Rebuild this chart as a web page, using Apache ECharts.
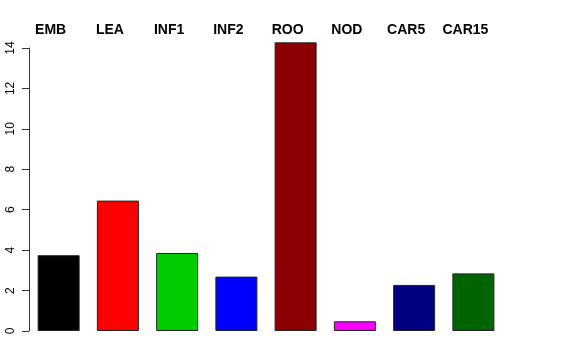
<!DOCTYPE html>
<html>
<head>
<meta charset="utf-8">
<script src="https://cdn.jsdelivr.net/npm/echarts@6/dist/echarts.min.js"></script>
<style>html,body{margin:0;padding:0;background:#fff}#c{width:576px;height:360px}</style>
</head>
<body>
<div id="c"></div>
<script>
var categories = ["EMB", "LEA", "INF1", "INF2", "ROO", "NOD", "CAR5", "CAR15"];
var values = [3.75, 6.45, 3.86, 2.69, 14.28, 0.48, 2.28, 2.85];
var colors = ["#000000", "#FF0000", "#00CD00", "#0000FF", "#8B0000", "#FF00FF", "#000080", "#006400"];
var yTicks = [0, 2, 4, 6, 8, 10, 12, 14];

var chart = echarts.init(document.getElementById('c'), null, {renderer: 'canvas'});
chart.setOption({
  animation: false,
  backgroundColor: '#ffffff',
  grid: {left: 29, width: 474, top: 48, bottom: 29, containLabel: false},
  xAxis: {
    type: 'category',
    data: categories,
    position: 'top',
    axisLine: {show: false},
    axisTick: {show: false},
    axisLabel: {
      interval: 0,
      hideOverlap: false,
      margin: 11,
      fontFamily: 'Liberation Sans, Arial, sans-serif',
      fontWeight: 'bold',
      fontSize: 14,
      color: '#000',
      padding: [0, 16, 0, 0]
    }
  },
  yAxis: {
    type: 'value',
    min: yTicks[0],
    max: yTicks[yTicks.length - 1],
    interval: 2,
    splitLine: {show: false},
    axisLine: {show: true, lineStyle: {color: '#333', width: 1}},
    axisTick: {show: true, length: 7, lineStyle: {color: '#333'}},
    axisLabel: {
      rotate: 90,
      margin: 12,
      fontFamily: 'Liberation Sans, Arial, sans-serif',
      fontSize: 12,
      color: '#000'
    }
  },
  series: [{
    type: 'bar',
    clip: false,
    barWidth: 42,
    data: values.map(function (v, i) {
      return {value: v, itemStyle: {color: colors[i]}};
    }),
    itemStyle: {borderColor: '#222', borderWidth: 1}
  }]
});
</script>
</body>
</html>
